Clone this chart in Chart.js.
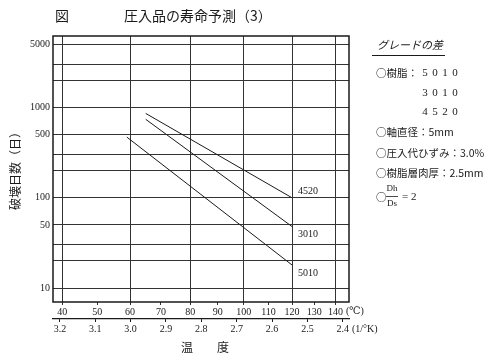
<!DOCTYPE html>
<html>
<head>
<meta charset="utf-8">
<script src="https://cdn.jsdelivr.net/npm/chart.js@4.4.0/dist/chart.umd.min.js"></script>
<style>
  html, body { margin: 0; background: #fff; }
</style>
</head>
<body>
<canvas id="lifeChart" width="500" height="362"></canvas>
<script>
// grades and their predicted life lines
const grades = ['4520', '3010', '5010'];
const tempStart = [65, 65, 59];      // ℃
const tempEnd = [120, 120, 120];     // ℃
const daysStart = [860, 740, 470];   // 日
const daysEnd = [100, 48, 18];       // 日

// axis ticks
const celsiusTicks = [40, 50, 60, 70, 80, 90, 100, 110, 120, 130, 140];
const celsiusGrid = [40, 60, 80, 100, 120, 140];
const invTicks = [3.2, 3.1, 3.0, 2.9, 2.8, 2.7, 2.6, 2.5, 2.4];
const dayTicks = [10, 20, 30, 50, 100, 200, 300, 500, 1000, 2000, 3000, 5000];
const dayLabels = [10, 50, 100, 500, 1000, 5000];

const toInv = t => 1000 / (t + 273.15);

const serif = '"Liberation Serif", "DejaVu Serif", serif';
const jp = '"Noto Sans CJK JP", sans-serif';
const ink = '#1a1a1a';

const datasets = grades.map((g, i) => ({
    label: g,
    data: [
        { x: toInv(tempStart[i]), y: daysStart[i] },
        { x: toInv(tempEnd[i]), y: daysEnd[i] }
    ],
    borderColor: ink,
    borderWidth: 1,
    pointRadius: 0,
    fill: false
}));

// line label offsets (4520 above, others below end point)
const labelDy = [-6, 8, 8];

const decorate = {
    id: 'decorate',
    afterDraw(chart) {
        const { ctx, chartArea: a } = chart;
        const xs = chart.scales.x, ys = chart.scales.y;
        ctx.save();
        // plot frame
        ctx.strokeStyle = ink;
        ctx.lineWidth = 1.5;
        ctx.strokeRect(a.left, a.top, a.right - a.left, a.bottom - a.top);

        ctx.fillStyle = ink;
        ctx.textBaseline = 'middle';

        // grade labels at line ends
        ctx.font = '10px ' + serif;
        ctx.textAlign = 'left';
        grades.forEach((g, i) => {
            const px = xs.getPixelForValue(toInv(tempEnd[i]));
            const py = ys.getPixelForValue(daysEnd[i]);
            ctx.fillText(g, px + 6, py + labelDy[i]);
        });

        // title
        ctx.font = '14px ' + jp;
        ctx.fillText('図', 55, 16);
        ctx.fillText('圧入品の寿命予測（3）', 124, 16);

        // unit labels of the x rows
        ctx.font = '10px ' + serif;
        ctx.fillText('(℃)', 346, 311);
        ctx.fillText('(1/°K)', 352, 329);

        // x title
        ctx.font = '12px ' + jp;
        ctx.textAlign = 'center';
        ctx.fillText('温', 187, 347);
        ctx.fillText('度', 223, 347);

        // y title
        ctx.save();
        ctx.translate(15, 168);
        ctx.rotate(-Math.PI / 2);
        ctx.font = '12px ' + jp;
        ctx.fillText('破壊日数（日）', 0, 0);
        ctx.restore();

        // condition box on the right
        ctx.textAlign = 'left';
        ctx.font = 'italic 11px ' + jp;
        ctx.fillText('グレードの差', 377, 45);
        ctx.lineWidth = 1.2;
        ctx.beginPath();
        ctx.moveTo(372, 55.5);
        ctx.lineTo(445, 55.5);
        ctx.stroke();

        ctx.font = '10.5px ' + jp;
        ctx.fillText('○樹脂：', 376, 73);
        ctx.textAlign = 'center';
        ctx.font = '11px ' + serif;
        [['5', '0', '1', '0', 73], ['3', '0', '1', '0', 93], ['4', '5', '2', '0', 112]].forEach(r => {
            for (let k = 0; k < 4; k++) ctx.fillText(r[k], 425 + k * 10, r[4]);
        });
        ctx.textAlign = 'left';
        ctx.font = '10.5px ' + jp;
        ctx.fillText('○軸直径：5mm', 376, 132);
        ctx.fillText('○圧入代ひずみ：3.0%', 376, 153);
        ctx.fillText('○樹脂層肉厚：2.5mm', 376, 173);
        ctx.fillText('○', 376, 197);
        ctx.font = '9px ' + serif;
        ctx.textAlign = 'center';
        ctx.fillText('Dh', 392, 189);
        ctx.fillText('Ds', 392, 204);
        ctx.lineWidth = 0.8;
        ctx.beginPath();
        ctx.moveTo(386, 196.5);
        ctx.lineTo(398, 196.5);
        ctx.stroke();
        ctx.font = '11px ' + serif;
        ctx.textAlign = 'left';
        ctx.fillText('= 2', 402, 197);
        ctx.restore();
    }
};

new Chart(document.getElementById('lifeChart'), {
    type: 'line',
    data: { datasets: datasets },
    options: {
        responsive: false,
        animation: false,
        layout: { padding: { left: 0, top: 36, right: 151, bottom: 25 } },
        plugins: { legend: { display: false }, tooltip: { enabled: false } },
        scales: {
            x: {
                type: 'linear',
                reverse: true,
                min: 2.3824,
                max: 3.2195,
                position: 'bottom',
                weight: 0,
                afterBuildTicks: s => { s.ticks = celsiusTicks.map(t => ({ value: toInv(t) })); },
                afterFit: s => { s.height = 17; },
                ticks: {
                    callback: (v, i) => celsiusTicks[i],
                    autoSkip: false,
                    maxRotation: 0,
                    padding: 1,
                    color: ink,
                    font: { family: serif, size: 10 }
                },
                grid: {
                    color: c => celsiusGrid.includes(celsiusTicks[c.index]) ? '#333' : 'rgba(0,0,0,0)',
                    tickColor: '#333',
                    tickLength: 3,
                    lineWidth: 1
                },
                border: { display: false }
            },
            x2: {
                type: 'linear',
                reverse: true,
                min: 2.3824,
                max: 3.2195,
                position: 'bottom',
                weight: 1,
                afterBuildTicks: s => { s.ticks = invTicks.map(v => ({ value: v })); },
                afterFit: s => { s.height = 18; },
                ticks: {
                    callback: v => v.toFixed(1),
                    autoSkip: false,
                    maxRotation: 0,
                    padding: 1,
                    color: ink,
                    font: { family: serif, size: 10 }
                },
                grid: { drawOnChartArea: false, tickColor: ink, tickLength: 3 },
                border: { display: true, color: ink, width: 1.2 }
            },
            y: {
                type: 'logarithmic',
                min: 7,
                max: 6200,
                afterBuildTicks: s => { s.ticks = dayTicks.map(v => ({ value: v })); },
                afterFit: s => { s.width = 53; },
                ticks: {
                    callback: v => dayLabels.includes(v) ? String(v) : '',
                    autoSkip: false,
                    padding: 3,
                    color: ink,
                    font: { family: serif, size: 10 }
                },
                grid: { color: '#333', lineWidth: 1, drawTicks: false },
                border: { display: false }
            }
        }
    },
    plugins: [decorate]
});
</script>
</body>
</html>
